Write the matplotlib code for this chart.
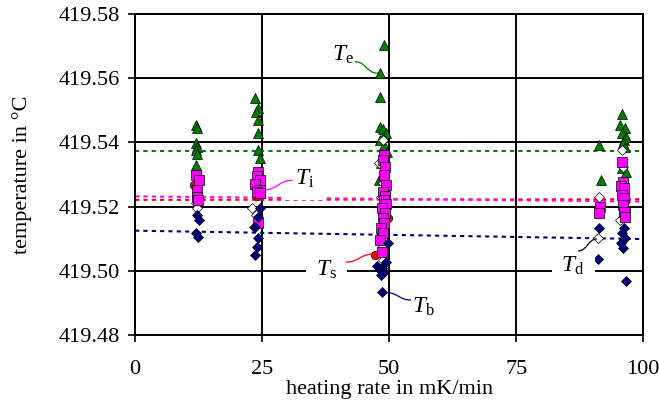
import numpy as np
import matplotlib
matplotlib.use('Agg')
import matplotlib.pyplot as plt
from matplotlib.path import Path
from matplotlib.patches import PathPatch

plt.rcParams['font.family'] = ['Liberation Serif', 'DejaVu Serif']
plt.rcParams['mathtext.fontset'] = 'custom'
plt.rcParams['mathtext.it'] = 'Liberation Serif:italic'
plt.rcParams['mathtext.rm'] = 'Liberation Serif'

# ================================ DATA ================================
# T_e (green triangles)
te_x = [12.0, 12.2, 12.0, 12.2, 12.0, 12.2, 12.0,
        23.6, 24.2, 23.8, 24.2, 24.2, 24.2, 24.6,
        49.0, 48.2, 48.2, 48.2, 48.8, 49.4, 48.8, 48.2, 49.0, 49.6, 48.4, 48.0, 48.8,
        91.3, 91.7,
        95.9, 95.5, 96.5, 95.9, 96.7, 96.3, 96.1, 96.5, 95.9, 96.7]
te_y = [419.5454, 419.5445, 419.5398, 419.5386, 419.5376, 419.5364, 419.5330,
        419.5538, 419.5507, 419.5495, 419.5470, 419.5429, 419.5376, 419.5351,
        419.5703, 419.5616, 419.5541, 419.5448, 419.5442, 419.5429, 419.5417, 419.5407,
        419.5392, 419.5370, 419.5336, 419.5283, 419.5074,
        419.5392, 419.5283,
        419.5488, 419.5454, 419.5445, 419.5429, 419.5417, 419.5407, 419.5398, 419.5386,
        419.5320, 419.5308]

# T_d (white diamonds)
td_x = [12.0, 12.2,
        23.0, 23.8, 23.4,
        48.8, 48.0, 48.8, 48.4, 48.6, 48.8,
        91.3, 91.1,
        95.9, 96.1, 95.5]
td_y = [419.5211, 419.5196,
        419.5196, 419.5174, 419.5136,
        419.5407, 419.5336, 419.5274, 419.5230, 419.5074, 419.5034,
        419.5230, 419.5102,
        419.5376, 419.5323, 419.5158]

# T_s (red circles)
ts_x = [11.6, 12.0, 23.4, 24.0, 49.2, 49.8, 47.2, 96.5, 96.7]
ts_y = [419.5267, 419.5230, 419.5264, 419.5233, 419.5277, 419.5164, 419.5049,
        419.5221, 419.5189]

# T_i (magenta squares)
ti_x = [12.0, 12.6, 12.2, 12.2, 12.4,
        24.2, 24.0, 24.6, 23.6, 24.6, 24.0, 24.6, 24.2,
        49.0, 48.8, 49.2, 49.0, 49.4, 48.8, 49.2, 49.0, 49.4, 48.6, 49.2, 48.8, 49.0,
        48.4, 48.8, 48.2, 48.6,
        91.5, 91.3,
        95.9, 96.1, 95.7, 96.3, 95.9, 96.3, 96.1, 96.3, 96.5]
ti_y = [419.5298, 419.5283, 419.5252, 419.5230, 419.5221,
        419.5308, 419.5295, 419.5283, 419.5270, 419.5252, 419.5245, 419.5242, 419.5149,
        419.5361, 419.5345, 419.5323, 419.5298, 419.5267, 419.5245, 419.5233, 419.5221,
        419.5208, 419.5196, 419.5180, 419.5164, 419.5149, 419.5133, 419.5118, 419.5096,
        419.5059,
        419.5199, 419.5180,
        419.5339, 419.5277, 419.5264, 419.5258, 419.5236, 419.5227, 419.5205, 419.5183,
        419.5168]

# T_b (navy diamonds)
tb_x = [12.2, 12.6, 12.0, 12.4,
        24.6, 24.2, 23.6, 24.2, 24.0, 23.6,
        49.8, 49.4, 47.6, 48.6, 48.2, 49.0, 48.4, 48.6,
        91.3, 91.1,
        96.3, 95.9, 96.5, 95.7, 96.1, 96.7]
tb_y = [419.5174, 419.5158, 419.5118, 419.5105,
        419.5196, 419.5168, 419.5136, 419.5102, 419.5074, 419.5049,
        419.5087, 419.5027, 419.5015, 419.5009, 419.5003, 419.4996, 419.4987, 419.4934,
        419.5133, 419.5037,
        419.5133, 419.5118, 419.5102, 419.5087, 419.5071, 419.4968]

# fitted lines (value at rate 0 and at rate 100)
fit_x = [0, 100]
fit_te = [419.5373, 419.5373]
fit_ti = [419.5232, 419.5216]
fit_ts = [419.5221, 419.5223]
fit_tb = [419.5125, 419.5099]

# ================================ PLOT ================================
fig = plt.figure(figsize=(6.59, 4.05), dpi=100)
ax = fig.add_axes([0.205, 0.173, 0.771, 0.792])

dot = (0, (2, 2))
ax.plot(fit_x, fit_te, color='#008000', lw=1.5, ls=dot, zorder=2)
ax.plot(fit_x, fit_ts, color='#ff0000', lw=1.5, ls=dot, zorder=2)
ax.plot(fit_x, fit_ti, color='#ff00ff', lw=1.5, ls=dot, zorder=2)
ax.plot(fit_x, fit_tb, color='#000080', lw=1.5, ls=dot, zorder=2)

ax.plot(te_x, te_y, ls='none', marker='^', ms=7.5, mfc='#008000', mec='black', mew=0.5, zorder=3)
ax.plot(td_x, td_y, ls='none', marker='D', ms=5.5, mfc='white', mec='black', mew=0.5, zorder=4)
ax.plot(ts_x, ts_y, ls='none', marker='o', ms=6, mfc='#ff0000', mec='black', mew=0.5, zorder=4)
ax.plot(ti_x, ti_y, ls='none', marker='s', ms=6.5, mfc='#ff00ff', mec='black', mew=0.5, zorder=5)
ax.plot(tb_x, tb_y, ls='none', marker='D', ms=5.5, mfc='#000080', mec='black', mew=0.5, zorder=6)

# labels with S-shaped connecting curves
box = dict(boxstyle='square,pad=0.42', fc='white', ec='none')
labels = [
    (r'$T_{\rm e}$', 40.9, 419.5672, (43.2, 419.5652), (47.8, 419.5616), '#008000'),
    (r'$T_{\rm i}$', 33.3, 419.5286, (31.0, 419.5282), (25.2, 419.5252), '#ff00ff'),
    (r'$T_{\rm s}$', 37.6, 419.5003, (41.4, 419.5027), (46.9, 419.5052), '#ff0000'),
    (r'$T_{\rm b}$', 56.7, 419.4888, (54.3, 419.4909), (49.4, 419.4932), '#000080'),
    (r'$T_{\rm d}$', 86.2, 419.5016, (87.2, 419.5062), (90.9, 419.5099), 'black'),
]
for txt, lx, ly, p0, p1, c in labels:
    ax.text(lx, ly, txt, fontsize=17, ha='center', va='center', bbox=box, zorder=7)
    mx = (p0[0] + p1[0]) / 2
    path = Path([p0, (mx, p0[1]), (mx, p1[1]), p1],
                [Path.MOVETO, Path.CURVE4, Path.CURVE4, Path.CURVE4])
    ax.add_patch(PathPatch(path, fc='none', ec=c, lw=0.9, zorder=8))

ax.set_xlim(0, 100)
ax.set_ylim(419.48, 419.58)
ax.set_xticks([0, 25, 50, 75, 100])
ax.set_yticks(np.arange(419.48, 419.5801, 0.02))
ax.yaxis.set_major_formatter(matplotlib.ticker.FormatStrFormatter('%.2f'))
ax.grid(True, color='black', lw=1.4, zorder=1)
ax.set_axisbelow(True)
for s in ax.spines.values():
    s.set_linewidth(1.4)
ax.tick_params(direction='out', length=5, width=1.2, labelsize=16)
ax.tick_params(axis='y', pad=6)
ax.tick_params(axis='x', pad=13)

ax.set_xlabel('heating rate in mK/min', fontsize=16, labelpad=1)
ax.set_ylabel('temperature in °C', fontsize=16, labelpad=19)

fig.savefig('out.png', dpi=100)
